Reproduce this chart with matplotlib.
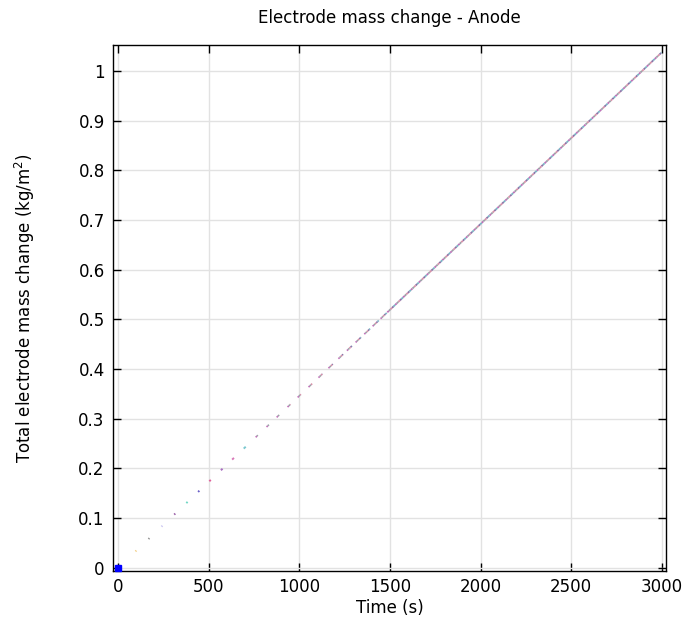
import matplotlib.pyplot as plt
import numpy as np

# anode mass change over time (straight line read at the 500 s ticks)
time_s = [0, 500, 1000, 1500, 2000, 2500, 3000]
mass = [0, 0.173, 0.346, 0.519, 0.692, 0.865, 1.037]

# sparse output segments before the trace becomes continuous
dash_start = [94, 166, 238, 308, 375, 440, 502, 566, 628, 692, 758, 818, 874, 934,
              990, 1050, 1105, 1160, 1215, 1262, 1310, 1358, 1404, 1448]
dash_end = [99, 171, 243, 314, 382, 447, 510, 575, 638, 703, 770, 831, 888, 950,
            1008, 1070, 1127, 1184, 1241, 1290, 1340, 1390, 1438, 1482]
dense_start = 1485

colors = ['#f2cf86', '#8c8c8c', '#c9c4f0', '#9a5fa8', '#6fd6c4', '#6a5fc8',
          '#e0609a', '#a86cc0', '#d878b8', '#7cc8d0']
mix = ['#c070b8', '#78b4c4', '#8a74a8', '#d890a8', '#9ca0a8']

fig = plt.figure(figsize=(6.82, 6.21), dpi=100)
ax = fig.add_axes([0.1657, 0.0805, 0.811, 0.847])

ax.grid(True, color='#e2e2e2', linewidth=1)
ax.set_axisbelow(True)

for i, (s, e) in enumerate(zip(dash_start, dash_end)):
    tt = np.array([s, e])
    mm = np.interp(tt, time_s, mass)
    if i < 10:
        ax.plot(tt, mm, color=colors[i], linewidth=1.4, solid_capstyle='butt')
    else:
        # longer dashes carry several overlapping colours
        for k, c in enumerate(mix):
            ax.plot(tt, mm, color=c, linewidth=1.2,
                    linestyle=(k * 1.0, (1.0, 1.0 * (len(mix) - 1))))

# continuous part drawn as interleaved coloured dashes
tt = np.array([dense_start, 3000])
mm = np.interp(tt, time_s, mass)
for k, c in enumerate(mix):
    ax.plot(tt, mm, color=c, linewidth=1.3,
            linestyle=(k * 1.2, (1.2, 1.2 * (len(mix) - 1))))

ax.plot([0], [0], 's', color='#0000ff', markersize=5, clip_on=False, zorder=5)

ax.set_xlim(-30, 3025)
ax.set_ylim(-0.007, 1.052)
ax.set_xticks([0, 500, 1000, 1500, 2000, 2500, 3000])
ax.set_yticks([0, 0.1, 0.2, 0.3, 0.4, 0.5, 0.6, 0.7, 0.8, 0.9, 1])
ax.set_yticklabels(['0', '0.1', '0.2', '0.3', '0.4', '0.5', '0.6', '0.7', '0.8', '0.9', '1'])
ax.tick_params(direction='in', top=True, right=True, length=6, width=1,
               labelsize=12, colors='black', pad=6)
ax.tick_params(axis='x', pad=5)
for sp in ax.spines.values():
    sp.set_linewidth(1)
    sp.set_color('black')

ax.set_xlabel('Time (s)', fontsize=12, labelpad=2)
ax.set_ylabel('Total electrode mass change (kg/m$^2$)', fontsize=12, labelpad=30)
ax.set_title('Electrode mass change - Anode', fontsize=12, pad=16)

fig.savefig('out.png', dpi=100)
